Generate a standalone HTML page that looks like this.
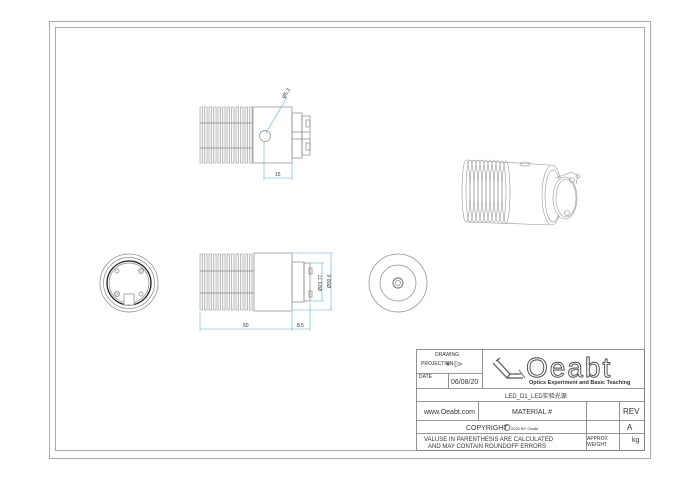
<!DOCTYPE html>
<html><head><meta charset="utf-8"><style>
html,body{margin:0;padding:0;background:#fff;}
svg{display:block;}
text{font-family:"Liberation Sans","Noto Sans CJK SC",sans-serif;fill:#333;}
</style></head><body>
<svg width="700" height="478" viewBox="0 0 700 478" xmlns="http://www.w3.org/2000/svg">
<rect x="0" y="0" width="700" height="478" fill="#fff"/>
<rect x="49.5" y="21.5" width="601" height="437" fill="none" stroke="#aaa" stroke-width="1"/>
<rect x="55.5" y="27.5" width="589" height="423" fill="none" stroke="#aaa" stroke-width="1"/>

<defs>
<g id="fins">
<rect x="0" y="0" width="2.6" height="56" fill="#f4f4f4" stroke="#999" stroke-width="0.6"/>
</g>
</defs>

<!-- TOP VIEW -->
<g stroke="#888" stroke-width="0.7" fill="none">
<g>
<use href="#fins" x="200" y="107"/><use href="#fins" x="204.5" y="107"/><use href="#fins" x="209" y="107"/><use href="#fins" x="213.5" y="107"/><use href="#fins" x="218" y="107"/><use href="#fins" x="222.5" y="107"/><use href="#fins" x="227" y="107"/><use href="#fins" x="231.5" y="107"/><use href="#fins" x="236" y="107"/><use href="#fins" x="240.5" y="107"/><use href="#fins" x="245" y="107"/><use href="#fins" x="249.5" y="107"/>
</g>
<line x1="200" y1="123" x2="253" y2="123"/><line x1="200" y1="148" x2="253" y2="148"/>
<rect x="253" y="107" width="39" height="56" fill="#fff"/>
<rect x="292" y="113" width="10" height="45"/>
<rect x="302" y="116" width="8" height="39"/>
<line x1="292" y1="132" x2="310" y2="132"/><line x1="292" y1="139" x2="310" y2="139"/>
<rect x="306" y="120" width="4" height="7"/><rect x="306" y="143" width="4" height="7"/>
<circle cx="265" cy="136" r="5.5"/>
</g>
<g stroke="#5ab0d8" stroke-width="0.6" fill="none">
<line x1="266" y1="133" x2="287" y2="97"/>
<line x1="264" y1="142" x2="264" y2="180"/><line x1="292" y1="163" x2="292" y2="180"/>
<line x1="264" y1="178" x2="292" y2="178"/>
</g>
<text x="275" y="176" font-size="5">15</text>
<text x="282" y="98" font-size="5" transform="rotate(-60 284 96)">Ø5.3</text>

<!-- SIDE VIEW -->
<g stroke="#888" stroke-width="0.7" fill="none">
<g>
<use href="#fins" x="200" y="254"/><use href="#fins" x="204.5" y="254"/><use href="#fins" x="209" y="254"/><use href="#fins" x="213.5" y="254"/><use href="#fins" x="218" y="254"/><use href="#fins" x="222.5" y="254"/><use href="#fins" x="227" y="254"/><use href="#fins" x="231.5" y="254"/><use href="#fins" x="236" y="254"/><use href="#fins" x="240.5" y="254"/><use href="#fins" x="245" y="254"/><use href="#fins" x="249.5" y="254"/>
</g>
<line x1="200" y1="271" x2="254" y2="271"/><line x1="200" y1="293" x2="254" y2="293"/>
<rect x="254" y="253" width="38" height="58" fill="#fff"/>
<rect x="292" y="262" width="12" height="40"/>
<rect x="304" y="263" width="6" height="38"/>
<rect x="309" y="268" width="3" height="6"/><rect x="309" y="291" width="3" height="6"/>
</g>
<g stroke="#5ab0d8" stroke-width="0.6" fill="none">
<line x1="310" y1="263" x2="324" y2="263"/><line x1="310" y1="301" x2="324" y2="301"/>
<line x1="322" y1="263" x2="322" y2="301"/>
<line x1="292" y1="253" x2="333" y2="253"/><line x1="292" y1="310" x2="333" y2="310"/>
<line x1="331" y1="253" x2="331" y2="310"/>
<line x1="200" y1="312" x2="200" y2="331"/><line x1="292" y1="312" x2="292" y2="331"/><line x1="310" y1="303" x2="310" y2="331"/>
<line x1="200" y1="329" x2="310" y2="329"/>
</g>
<text x="243" y="327" font-size="5">50</text>
<text x="297" y="327" font-size="5">8.5</text>
<text x="320" y="293" font-size="5" transform="rotate(-90 320 291)">Ø21.77</text>
<text x="329" y="290" font-size="5" transform="rotate(-90 329 288)">Ø30.6</text>

<!-- LEFT END VIEW -->
<g stroke="#888" stroke-width="0.7" fill="none">
<circle cx="129" cy="283" r="29"/>
<circle cx="129" cy="283" r="25.5"/>
<circle cx="129" cy="283" r="22" stroke="#222" stroke-width="1.3"/>
<circle cx="129" cy="283" r="20"/>
<circle cx="117" cy="271" r="2"/><circle cx="141" cy="271" r="2.5" fill="#ddd"/>
<circle cx="117" cy="294" r="2.5" fill="#ddd"/><circle cx="141" cy="294" r="2"/>
<rect x="124" y="294" width="10" height="11" fill="#fff"/>
</g>

<!-- FRONT VIEW -->
<g stroke="#888" stroke-width="0.7" fill="none">
<circle cx="398" cy="283" r="29"/>
<circle cx="398" cy="283" r="18"/>
<circle cx="398" cy="283" r="5" stroke-width="1.2"/>
<circle cx="398" cy="283" r="2.5"/>
</g>

<!-- ISO VIEW -->
<g stroke="#999" stroke-width="0.6" fill="none">
<path d="M467 160 L550 165 M467 222 L550 225"/>
<g>
<ellipse cx="466" cy="191" rx="4" ry="31"/><ellipse cx="470" cy="191" rx="4" ry="31"/><ellipse cx="474" cy="191" rx="4" ry="31"/><ellipse cx="478" cy="191" rx="4" ry="31"/><ellipse cx="482" cy="191" rx="4" ry="31"/><ellipse cx="486" cy="191" rx="4" ry="31"/><ellipse cx="490" cy="191" rx="4" ry="31"/><ellipse cx="494" cy="191" rx="4" ry="31"/><ellipse cx="498" cy="191" rx="4" ry="31"/><ellipse cx="502" cy="192" rx="4" ry="31"/><ellipse cx="506" cy="192" rx="4" ry="31"/>
</g>
<ellipse cx="525" cy="164" rx="5" ry="2"/>
<ellipse cx="552" cy="195" rx="10" ry="30" fill="#fff"/>
<ellipse cx="553" cy="196" rx="8" ry="26"/>
<ellipse cx="565" cy="198" rx="12" ry="21" fill="#fff"/>
<ellipse cx="566" cy="198" rx="10" ry="19"/>
<path d="M555 178 L572 172 L578 176 L576 184"/>
<circle cx="572" cy="180" r="2.5"/><circle cx="578" cy="176" r="2"/><circle cx="567" cy="213" r="2.5"/>
</g>

<!-- TITLE BLOCK -->
<g stroke="#777" stroke-width="0.8" fill="none">
<rect x="416.5" y="349.5" width="228" height="101"/>
<line x1="416" y1="388.5" x2="645" y2="388.5"/>
<line x1="416" y1="401.5" x2="645" y2="401.5"/>
<line x1="416" y1="420.5" x2="645" y2="420.5"/>
<line x1="416" y1="433.5" x2="645" y2="433.5"/>
<line x1="482.5" y1="349" x2="482.5" y2="388"/>
<line x1="416" y1="373.5" x2="482" y2="373.5"/>
<line x1="448.5" y1="373" x2="448.5" y2="388"/>
<line x1="478.5" y1="401" x2="478.5" y2="420"/>
<line x1="586.5" y1="401" x2="586.5" y2="450"/>
<line x1="619.5" y1="401" x2="619.5" y2="450"/>
<path d="M497 360 L510 374 L521 374 M493 363 L507 378 L523 378 M500 358 L496 361 M510 374 L507 378" stroke="#555" stroke-width="1.2"/>
<path d="M519 370 L525 378" stroke="#555"/>
</g>
<text x="435" y="356" font-size="5">DRAWING</text>
<text x="421" y="365" font-size="5">PROJECTION</text>
<circle cx="448" cy="364" r="1.6" fill="#666"/>
<path d="M452 364 L463 364 M455 361 L462 364 L455 367 Z" stroke="#777" stroke-width="0.6" fill="none"/>
<text x="419" y="378" font-size="5">DATE</text>
<text x="451" y="384" font-size="7">06/08/20</text>
<text x="526" y="377" font-size="28" letter-spacing="2" style="fill:none;stroke:#444;stroke-width:0.9">Oeabt</text>
<text x="529" y="384" font-size="5.5" font-weight="bold" fill="#222">Optics Experiment and Basic Teaching</text>
<text x="505" y="398" font-size="6" font-family="Liberation Serif,'Noto Serif CJK SC',serif">LED_D1_LED实验光源</text>
<text x="424" y="414" font-size="7">www.Oeabt.com</text>
<text x="512" y="414" font-size="7">MATERIAL #</text>
<text x="623" y="414" font-size="8">REV</text>
<text x="627" y="430" font-size="8">A</text>
<text x="466" y="430" font-size="7">COPYRIGHT</text>
<circle cx="507" cy="427.5" r="3" fill="none" stroke="#555" stroke-width="0.8"/>
<text x="511" y="430" font-size="4">2020 BY Oeabt</text>
<text x="424" y="441" font-size="6">VALUSE IN PARENTHESIS ARE CALCULATED</text>
<text x="428" y="448" font-size="6">AND MAY CONTAIN ROUNDOFF ERRORS</text>
<text x="587" y="440" font-size="5">APPROX</text>
<text x="587" y="446" font-size="5">WEIGHT</text>
<text x="632" y="442" font-size="7">kg</text>
</svg>
</body></html>
